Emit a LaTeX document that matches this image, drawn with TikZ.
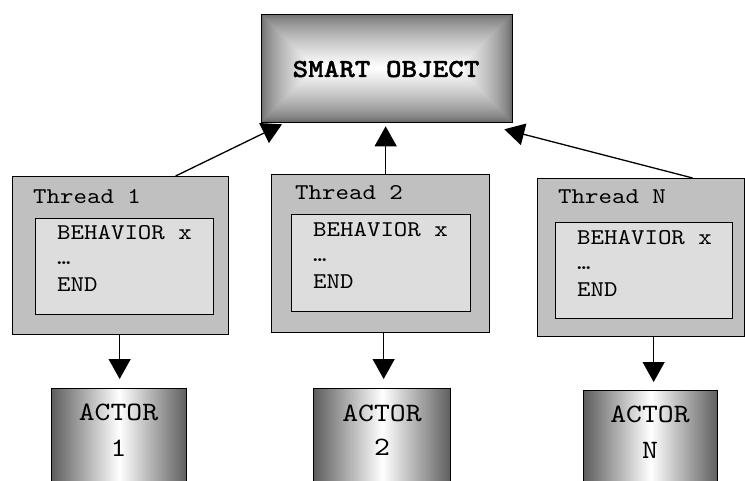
\documentclass[tikz,border=0pt]{standalone}
\usepackage{fontspec}
% typewriter face with serifs, widened to a Courier-like set width
\newfontfamily\cour[Extension=.otf, UprightFont=*-regular,
  BoldFont=lmmonolt10-bold, BoldFeatures={FakeBold=1.2}, FakeStretch=1.14]{lmmono10}
\usetikzlibrary{arrows.meta,calc}

\definecolor{threadfill}{HTML}{C0C0C0}
\definecolor{bodyfill}{HTML}{DDDDDD}
\definecolor{rimgray}{HTML}{6A6A6A}
\definecolor{actorrim}{HTML}{5E5E5E}

\tikzset{
  threadbox/.style={draw=black, line width=1.3pt, fill=threadfill, inner sep=0pt, anchor=north west},
  bodybox/.style={draw=black, line width=1.3pt, fill=bodyfill, inner sep=0pt, anchor=north west},
  actorbox/.style={draw=black, line width=1.3pt, inner sep=0pt, anchor=north west,
    left color=actorrim, right color=actorrim, middle color=white},
  smallmono/.style={font=\fontsize{22.5}{26}\selectfont\cour, inner sep=0pt, anchor=base west},
  bigmono/.style={font=\fontsize{26.5}{30}\selectfont\cour, inner sep=0pt, anchor=base},
  link/.style={line width=1.3pt, -{Triangle[length=20pt,width=22pt]}},
}

\begin{document}
\begin{tikzpicture}[x=1pt, y=-1pt]
\clip (0,0) rectangle (745,481);
\fill[white] (0,0) rectangle (745,481);

% smart object: rectangular gradient, grey rim fading to a white core
\foreach \i in {0,...,53}{
  \pgfmathsetmacro\p{100*(\i/53)^0.7}
  \fill[white!\p!rimgray] (261+\i,14+\i) rectangle (512-\i,122-\i);
}
\node[draw=black, line width=1.3pt, minimum width=251pt, minimum height=108pt,
      inner sep=0pt, anchor=north west] (so) at (261,14) {};
\node[bigmono, font=\fontsize{26}{30}\selectfont\cour\bfseries] (solabel) at (386,77) {SMART OBJECT};

% thread 1
\node[threadbox, minimum width=216pt, minimum height=158pt] (t1) at (12,176) {};
\node[bodybox, minimum width=178pt, minimum height=96pt] (b1) at (35,218) {};
\node[smallmono] (t1title) at (33,204) {Thread 1};
\node[smallmono] (b1l1) at (57,240) {BEHAVIOR x};
\node[smallmono] (b1l2) at (57,265) {…};
\node[smallmono] (b1l3) at (57,292) {END};

% thread 2
\node[threadbox, minimum width=218pt, minimum height=158pt] (t2) at (271,174) {};
\node[bodybox, minimum width=179pt, minimum height=97pt] (b2) at (291,214) {};
\node[smallmono] (t2title) at (295,200) {Thread 2};
\node[smallmono] (b2l1) at (313,237) {BEHAVIOR x};
\node[smallmono] (b2l2) at (313,262) {…};
\node[smallmono] (b2l3) at (313,289) {END};

% thread N
\node[threadbox, minimum width=207pt, minimum height=158pt] (tN) at (537,178) {};
\node[bodybox, minimum width=177pt, minimum height=96pt] (bN) at (555,222) {};
\node[smallmono] (tNtitle) at (558,204) {Thread N};
\node[smallmono] (bNl1) at (577,245) {BEHAVIOR x};
\node[smallmono] (bNl2) at (577,270) {…};
\node[smallmono] (bNl3) at (577,297) {END};

% actors
\node[actorbox, minimum width=135pt, minimum height=110pt] (a1) at (51,388) {};
\node[bigmono] (a1l1) at (118.5,420) {ACTOR};
\node[bigmono] (a1l2) at (118.5,456) {1};

\node[actorbox, minimum width=137pt, minimum height=110pt] (a2) at (313,388) {};
\node[bigmono] (a2l1) at (382,421) {ACTOR};
\node[bigmono] (a2l2) at (382,455) {2};

\node[actorbox, minimum width=134pt, minimum height=110pt] (aN) at (583,390) {};
\node[bigmono] (aNl1) at (650,422) {ACTOR};
\node[bigmono] (aNl2) at (650,458) {N};

% threads report to the smart object
\draw[link] ([xshift=55pt]t1.north) -- ([xshift=21pt,yshift=-1pt]so.south west);
\draw[link] ([xshift=5pt]t2.north) -- ([xshift=-1.5pt,yshift=-3pt]so.south);
\draw[link] ([xshift=51.5pt]tN.north) -- ([xshift=-9pt,yshift=-6pt]so.south east);

% threads drive their actors
\draw[link] ([xshift=0.5pt]t1.south -| a1.north) -- ([xshift=0.5pt,yshift=9pt]a1.north);
\draw[link] ([xshift=1.5pt]t2.south -| a2.north) -- ([xshift=1.5pt,yshift=9pt]a2.north);
\draw[link] ([xshift=3pt]tN.south -| aN.north) -- ([xshift=3pt,yshift=8pt]aN.north);
\end{tikzpicture}
\end{document}
